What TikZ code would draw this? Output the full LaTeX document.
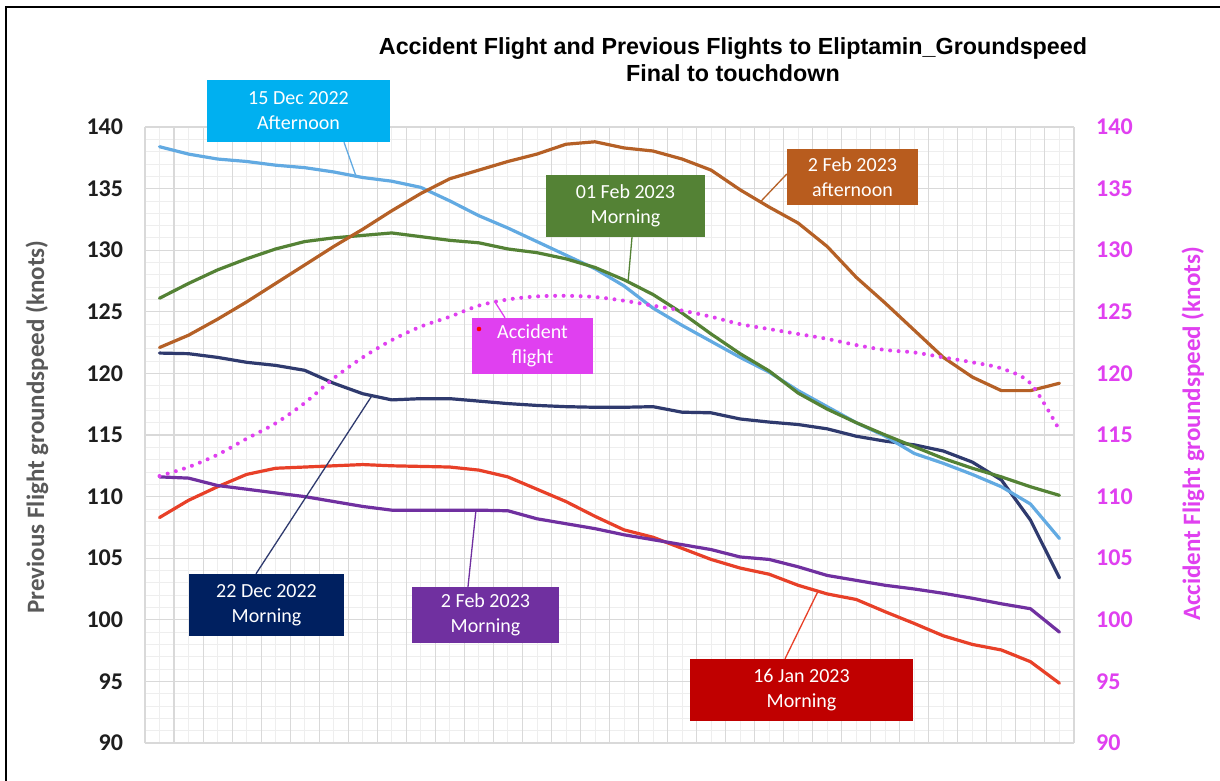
\documentclass[tikz,border=0pt]{standalone}
\usepackage{fontspec}
\setmainfont{Carlito}
\newfontfamily\arialfont{Liberation Sans}
\definecolor{blueline}{RGB}{98,170,226}
\definecolor{bluebox}{RGB}{0,176,240}
\definecolor{brownline}{RGB}{181,96,38}
\definecolor{brownbox}{RGB}{184,92,30}
\definecolor{greenline}{RGB}{84,130,53}
\definecolor{navyline}{RGB}{47,58,110}
\definecolor{navybox}{RGB}{0,32,96}
\definecolor{redline}{RGB}{232,64,40}
\definecolor{redbox}{RGB}{192,0,0}
\definecolor{purpleline}{RGB}{112,48,160}
\definecolor{accident}{RGB}{224,64,240}
\definecolor{axisgray}{RGB}{89,89,89}
\definecolor{ticktext}{RGB}{30,30,30}
\definecolor{gridmajor}{RGB}{217,217,217}
\definecolor{gridminor}{RGB}{238,238,238}
\tikzset{
	series/.style={line width=3.2pt, line join=round, line cap=round},
	leader/.style={line width=1.3pt},
	callout/.style={text=white, align=center, inner sep=0pt, font=\fontsize{20}{25}\selectfont},
	ticklabel/.style={inner sep=0pt, font=\bfseries\fontsize{24}{24}\selectfont},
	axistitle/.style={inner sep=0pt, rotate=90, font=\bfseries\fontsize{25}{25}\selectfont}
}

\begin{document}
\begin{tikzpicture}[x=1pt, y=1pt]
		%%%%% START %%%%%
		\useasboundingbox (0,0) rectangle (1220,780);
		\fill[white] (0,0) rectangle (1220,780);
		\draw[line width=2pt] (6,-10) -- (6,773) -- (1230,773);
		
		\node[anchor=base, font=\arialfont\bfseries\fontsize{23.3}{27}\selectfont] (title) at (733,725) {Accident Flight and Previous Flights to Eliptamin\_Groundspeed};
		\node[anchor=base, font=\arialfont\bfseries\fontsize{23.3}{27}\selectfont] (subtitle) at (733,698) {Final to touchdown};
		
		\node[axistitle, text=axisgray] (ytitle) at (37,353) {Previous Flight groundspeed (knots)};
		\node[axistitle, text=accident] (y2title) at (1193,346) {Accident Flight groundspeed (knots)};
		
		\begin{scope}[x=29.03pt, y=12.32pt, shift={(145pt,-1071.8pt)}]
			\foreach \k in {0.5,1.5,...,31.5} \draw[gridminor, line width=0.8pt] (\k,90) -- (\k,140);
			\foreach \v in {90,...,140} \draw[gridminor, line width=0.8pt] (0,\v) -- (32,\v);
			\foreach \k in {0,...,32} \draw[gridmajor, line width=1.1pt] (\k,90) -- (\k,140);
			\foreach \v in {90,95,...,140} \draw[gridmajor, line width=1.3pt] (0,\v) -- (32,\v);
			
			\foreach \v in {90,95,...,140} {
				\node[ticklabel, anchor=east, text=ticktext] (lt\v) at (-0.75,\v) {\v};
				\node[ticklabel, anchor=west, text=accident] (rt\v) at (32.76,\v) {\v};
			}
			
			\draw[series, navyline] plot coordinates {(0.5,121.65) (1.5,121.6) (2.5,121.3) (3.5,120.9) (4.5,120.65) (5.5,120.25) (6.5,119.2) (7.5,118.35) (8.5,117.85) (9.5,117.95) (10.5,117.95) (11.5,117.75) (12.5,117.55) (13.5,117.4) (14.5,117.3) (15.5,117.25) (16.5,117.25) (17.5,117.3) (18.5,116.85) (19.5,116.8) (20.5,116.3) (21.5,116.05) (22.5,115.85) (23.5,115.5) (24.5,114.9) (25.5,114.5) (26.5,114.2) (27.5,113.7) (28.5,112.8) (29.5,111.35) (30.5,108.1) (31.5,103.4)};
			\draw[series, blueline] plot coordinates {(0.5,138.4) (1.5,137.8) (2.5,137.4) (3.5,137.2) (4.5,136.9) (5.5,136.7) (6.5,136.35) (7.5,135.9) (8.5,135.6) (9.5,135.1) (10.5,134.0) (11.5,132.8) (12.5,131.8) (13.5,130.7) (14.5,129.6) (15.5,128.5) (16.5,127.1) (17.5,125.3) (18.5,123.9) (19.5,122.6) (20.5,121.3) (21.5,120.1) (22.5,118.6) (23.5,117.3) (24.5,116.0) (25.5,114.9) (26.5,113.5) (27.5,112.7) (28.5,111.8) (29.5,110.8) (30.5,109.4) (31.5,106.6)};
			\draw[series, redline] plot coordinates {(0.5,108.3) (1.5,109.7) (2.5,110.8) (3.5,111.8) (4.5,112.3) (5.5,112.4) (6.5,112.5) (7.5,112.6) (8.5,112.5) (9.5,112.45) (10.5,112.4) (11.5,112.15) (12.5,111.6) (13.5,110.6) (14.5,109.6) (15.5,108.4) (16.5,107.3) (17.5,106.7) (18.5,105.8) (19.5,104.9) (20.5,104.2) (21.5,103.7) (22.5,102.8) (23.5,102.1) (24.5,101.65) (25.5,100.65) (26.5,99.7) (27.5,98.7) (28.5,98.0) (29.5,97.55) (30.5,96.6) (31.5,94.85)};
			\draw[series, greenline] plot coordinates {(0.5,126.1) (1.5,127.3) (2.5,128.4) (3.5,129.3) (4.5,130.1) (5.5,130.7) (6.5,131.0) (7.5,131.2) (8.5,131.4) (9.5,131.1) (10.5,130.8) (11.5,130.6) (12.5,130.1) (13.5,129.8) (14.5,129.3) (15.5,128.6) (16.5,127.6) (17.5,126.4) (18.5,124.9) (19.5,123.2) (20.5,121.6) (21.5,120.2) (22.5,118.4) (23.5,117.1) (24.5,116.0) (25.5,115.0) (26.5,114.05) (27.5,113.1) (28.5,112.3) (29.5,111.6) (30.5,110.8) (31.5,110.1)};
			\draw[series, purpleline] plot coordinates {(0.5,111.6) (1.5,111.5) (2.5,110.9) (3.5,110.6) (4.5,110.3) (5.5,110.0) (6.5,109.6) (7.5,109.2) (8.5,108.9) (9.5,108.9) (10.5,108.9) (11.5,108.9) (12.5,108.85) (13.5,108.2) (14.5,107.8) (15.5,107.4) (16.5,106.9) (17.5,106.5) (18.5,106.1) (19.5,105.7) (20.5,105.1) (21.5,104.9) (22.5,104.3) (23.5,103.6) (24.5,103.2) (25.5,102.8) (26.5,102.5) (27.5,102.15) (28.5,101.75) (29.5,101.3) (30.5,100.9) (31.5,99.0)};
			\draw[series, brownline] plot coordinates {(0.5,122.1) (1.5,123.1) (2.5,124.4) (3.5,125.8) (4.5,127.3) (5.5,128.8) (6.5,130.3) (7.5,131.7) (8.5,133.2) (9.5,134.6) (10.5,135.8) (11.5,136.5) (12.5,137.2) (13.5,137.8) (14.5,138.6) (15.5,138.8) (16.5,138.3) (17.5,138.05) (18.5,137.4) (19.5,136.5) (20.5,134.9) (21.5,133.5) (22.5,132.2) (23.5,130.3) (24.5,127.8) (25.5,125.7) (26.5,123.5) (27.5,121.3) (28.5,119.7) (29.5,118.6) (30.5,118.6) (31.5,119.2)};
			\draw[accident, line width=4pt, line cap=round, dash pattern=on 0pt off 8.5pt] plot[smooth] coordinates {(0.5,111.67) (1.5,112.4) (2.5,113.4) (3.5,114.7) (4.5,115.95) (5.5,117.6) (6.5,119.6) (7.5,121.3) (8.5,122.7) (9.5,123.8) (10.5,124.6) (11.5,125.5) (12.5,126.0) (13.5,126.25) (14.5,126.3) (15.5,126.2) (16.5,125.9) (17.5,125.5) (18.5,125.1) (19.5,124.6) (20.5,124.0) (21.5,123.6) (22.5,123.2) (23.5,122.8) (24.5,122.3) (25.5,121.9) (26.5,121.7) (27.5,121.3) (28.5,120.9) (29.5,120.4) (30.5,119.2) (31.5,115.4)};
			
			\coordinate (dec15tip) at (7.27,136.0);
			\coordinate (feb01tip) at (16.64,127.4);
			\coordinate (feb02pmtip) at (21.19,133.9);
			\coordinate (acctip) at (12.06,125.78);
			\coordinate (dec22tip) at (7.82,118.2);
			\coordinate (feb02amtip) at (11.40,108.9);
			\coordinate (jan16tip) at (23.18,102.3);
		\end{scope}
		
		\node[callout, fill=bluebox, minimum width=183pt, minimum height=62pt] (dec15) at (298.5,669) {15 Dec 2022\\Afternoon};
		\node[callout, fill=greenline, minimum width=159pt, minimum height=62pt] (feb01) at (625.5,574) {01 Feb 2023\\Morning};
		\node[callout, fill=brownbox, minimum width=131pt, minimum height=56pt] (feb02pm) at (852.5,603) {2 Feb 2023\\afternoon};
		\node[callout, fill=accident, minimum width=121pt, minimum height=56pt] (acc) at (532.5,434) {Accident\\flight};
		\node[callout, fill=navybox, minimum width=155pt, minimum height=62pt] (dec22) at (266.5,175) {22 Dec 2022\\Morning};
		\node[callout, fill=purpleline, minimum width=147pt, minimum height=56pt] (feb02am) at (485.5,165) {2 Feb 2023\\Morning};
		\node[callout, fill=redbox, minimum width=223pt, minimum height=62pt] (jan16) at (801.5,90) {16 Jan 2023\\Morning};
		\fill[red] (479,451) circle (2.3);
		
		\draw[leader, blueline] ([xshift=45.5pt]dec15.south) -- (dec15tip);
		\draw[leader, greenline] ([xshift=6.5pt]feb01.south) -- (feb01tip);
		\draw[leader, brownline] ([yshift=3pt]feb02pm.west) -- (feb02pmtip);
		\draw[leader, accident] ([xshift=-27.5pt]acc.north) -- (acctip);
		\draw[leader, navyline] ([xshift=-10.5pt]dec22.north) -- (dec22tip);
		\draw[leader, purpleline] ([xshift=-17.5pt]feb02am.north) -- (feb02amtip);
		\draw[leader, redline] ([xshift=-16.5pt]jan16.north) -- (jan16tip);
		%%%%% END %%%%%
	\end{tikzpicture}
\end{document}
